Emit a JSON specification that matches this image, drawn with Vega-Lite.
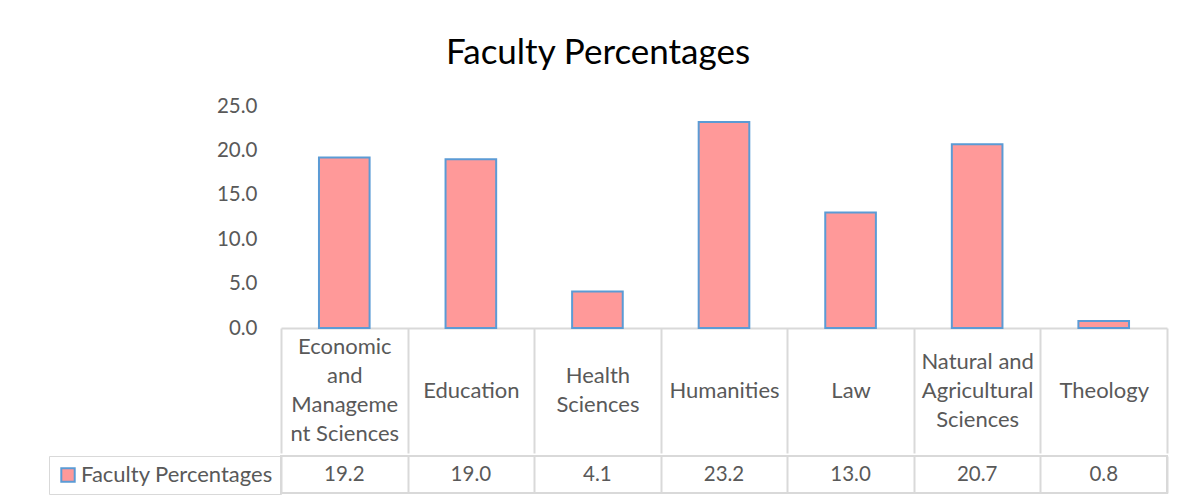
{
  "$schema": "https://vega.github.io/schema/vega-lite/v6.json",
  "padding": {"left": 47, "top": 36, "right": 10, "bottom": 0},
  "background": "white",
  "datasets": {
    "faculty": [
      {"faculty": "Economic and Management Sciences", "percentage": 19.2, "series": "Faculty Percentages"},
      {"faculty": "Education", "percentage": 19.0, "series": "Faculty Percentages"},
      {"faculty": "Health Sciences", "percentage": 4.1, "series": "Faculty Percentages"},
      {"faculty": "Humanities", "percentage": 23.2, "series": "Faculty Percentages"},
      {"faculty": "Law", "percentage": 13.0, "series": "Faculty Percentages"},
      {"faculty": "Natural and Agricultural Sciences", "percentage": 20.7, "series": "Faculty Percentages"},
      {"faculty": "Theology", "percentage": 0.8, "series": "Faculty Percentages"}
    ]
  },
  "spacing": 0,
  "resolve": {"legend": {"color": "independent"}},
  "vconcat": [
    {
      "title": {"text": "Faculty Percentages", "anchor": "middle", "frame": "bounds", "fontSize": 35, "font": "Lato", "fontWeight": "normal", "color": "#000000", "offset": 25, "dx": -12},
      "width": 886,
      "height": 222,
      "data": {"name": "faculty"},
      "mark": {"type": "bar", "fill": "#FF9999", "stroke": "#5B9BD5", "strokeWidth": 2, "width": {"band": 0.4}},
      "encoding": {
        "x": {
          "field": "faculty", "type": "nominal", "sort": null,
          "scale": {"paddingInner": 0, "paddingOuter": 0},
          "axis": {
            "title": null, "orient": "bottom", "labelAngle": 0,
            "domain": true, "domainColor": "#D9D9D9", "domainWidth": 2,
            "ticks": true, "tickBand": "extent", "tickSize": 125, "tickColor": "#D9D9D9", "tickWidth": 2,
            "minExtent": 122, "maxExtent": 122,
            "labelFont": "Lato", "labelFontSize": 22, "labelColor": "#595959",
            "labelBaseline": "middle", "labelLineHeight": 29,
            "labelPadding": {
              "condition": [
                {"test": "datum.value == 'Economic and Management Sciences'", "value": -106.5},
                {"test": "datum.value == 'Natural and Agricultural Sciences'", "value": -92},
                {"test": "datum.value == 'Health Sciences'", "value": -77.5}
              ],
              "value": -63
            },
            "labelLimit": 0, "labelOverlap": false, "labelBound": false,
            "labelExpr": "datum.label == 'Economic and Management Sciences' ? ['Economic', 'and', 'Manageme', 'nt Sciences'] : datum.label == 'Natural and Agricultural Sciences' ? ['Natural and', 'Agricultural', 'Sciences'] : datum.label == 'Health Sciences' ? ['Health', 'Sciences'] : datum.label"
          }
        },
        "y": {
          "field": "percentage", "type": "quantitative",
          "scale": {"domain": [0, 25], "nice": false},
          "axis": {
            "title": null, "values": [0, 5, 10, 15, 20, 25], "format": ".1f",
            "grid": false, "domain": false, "ticks": false,
            "labelFont": "Lato", "labelFontSize": 20.5, "labelColor": "#595959", "labelPadding": 24,
            "minExtent": 229, "maxExtent": 229
          }
        }
      }
    },
    {
      "width": 886,
      "height": 37,
      "view": {"stroke": "#D9D9D9", "strokeWidth": 2},
      "data": {"name": "faculty"},
      "layer": [
        {
          "mark": {"type": "text", "font": "Lato", "fontSize": 20.5, "baseline": "middle", "color": "#595959"},
          "encoding": {
            "x": {
              "field": "faculty", "type": "nominal", "sort": null,
              "scale": {"paddingInner": 0, "paddingOuter": 0},
              "axis": {
                "title": null, "labels": false, "ticks": false, "domain": false,
                "grid": true, "tickBand": "extent", "gridColor": "#D9D9D9", "gridWidth": 2
              }
            },
            "text": {"field": "percentage", "type": "quantitative", "format": ".1f"}
          }
        },
        {
          "mark": {"type": "point", "shape": "square", "filled": true, "size": 0, "opacity": 1},
          "encoding": {
            "x": {"field": "faculty", "type": "nominal", "sort": null},
            "color": {
              "field": "series", "type": "nominal",
              "scale": {"range": ["#FF9999"]},
              "legend": {
                "title": null, "orient": "left", "offset": 0, "padding": 8,
                "symbolType": "square", "symbolSize": 180, "symbolStrokeWidth": 2, "symbolStrokeColor": "#5B9BD5",
                "symbolOpacity": 1,
                "labelFont": "Lato", "labelFontSize": 22, "labelColor": "#595959", "labelOffset": 2, "labelLimit": 0,
                "strokeColor": "#D9D9D9",
                "encode": {"symbols": {"update": {"stroke": {"value": "#5B9BD5"}, "strokeWidth": {"value": 2}, "opacity": {"value": 1}}}}
              }
            }
          }
        }
      ]
    }
  ],
  "config": {
    "view": {"stroke": null},
    "font": "Lato"
  }
}
